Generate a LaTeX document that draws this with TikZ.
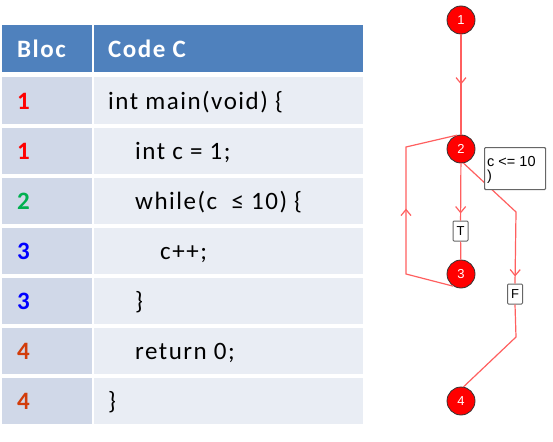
\documentclass[tikz,border=0pt]{standalone}
\usepackage{fontspec}
\setmainfont{Carlito}
\newfontfamily\tablefont[LetterSpace=6]{Carlito}
\newfontfamily\graphfont{Liberation Sans}
\usetikzlibrary{arrows.meta, positioning, decorations.markings}

\definecolor{hdrBlue}{RGB}{79,129,189}
\definecolor{blocGray}{RGB}{208,216,232}
\definecolor{codeGray}{RGB}{233,237,244}
\definecolor{oneRed}{RGB}{255,0,0}
\definecolor{twoGreen}{RGB}{0,176,80}
\definecolor{threeBlue}{RGB}{0,0,255}
\definecolor{fourOrange}{RGB}{210,60,10}
\definecolor{edgeRed}{RGB}{255,95,95}

\begin{document}
\begin{tikzpicture}[
        x=1pt, y=-1pt,
        hdr/.style={fill=hdrBlue, minimum height=47pt, inner sep=0pt},
        bloccell/.style={fill=blocGray, minimum width=90pt, minimum height=46pt, inner sep=0pt},
        codecell/.style={fill=codeGray, minimum width=269pt, minimum height=46pt, inner sep=0pt},
        hdrtext/.style={anchor=base west, inner sep=0pt, text=white, font=\tablefont\fontsize{25}{29}\selectfont\bfseries},
        num/.style={anchor=base west, inner sep=0pt, font=\tablefont\fontsize{25}{29}\selectfont\bfseries},
        code/.style={anchor=base west, inner sep=0pt, font=\tablefont\fontsize{25}{29}\selectfont},
        vtx/.style={circle, fill=red, draw=black!80, line width=0.8pt, minimum size=28pt, inner sep=0pt,
            text=white, font=\graphfont\fontsize{13}{15}\selectfont},
        tf/.style={draw=black!60, fill=white, line width=1pt, rounded corners=1pt, minimum width=15pt,
            minimum height=20pt, inner sep=0pt, font=\graphfont\fontsize{13}{15}\selectfont},
        condbox/.style={draw=black!60, fill=white, line width=1.1pt, rounded corners=1pt, minimum width=61pt,
            minimum height=42pt, inner sep=0pt},
        condtext/.style={anchor=north west, inner sep=0pt, align=left, font=\graphfont\fontsize{14.5}{14}\selectfont},
        edge/.style={draw=edgeRed, line width=1.2pt},
        midarrow/.style={postaction={decorate, decoration={markings,
            mark=at position #1 with {\arrow[edgeRed, line width=1.2pt]{Straight Barb[length=6pt, width=10pt]}}}}}
    ]

    \useasboundingbox (0,0) rectangle (553,441);

    % table
    \node[hdr, minimum width=90pt] (hbloc) at (47,48.5) {};
    \node[hdr, minimum width=269pt] (hcode) at (228.5,48.5) {};
    \node[hdrtext] (tbloc) at (17,58) {Bloc};
    \node[hdrtext] (tcode) at (108,58) {Code C};

    \node[bloccell] (b1) at (47,100.5) {};
    \node[bloccell] (b2) at (47,150.5) {};
    \node[bloccell] (b3) at (47,200.5) {};
    \node[bloccell] (b4) at (47,250.5) {};
    \node[bloccell] (b5) at (47,300.5) {};
    \node[bloccell] (b6) at (47,350.5) {};
    \node[bloccell] (b7) at (47,400.5) {};
    \node[codecell] (c1) at (228.5,100.5) {};
    \node[codecell] (c2) at (228.5,150.5) {};
    \node[codecell] (c3) at (228.5,200.5) {};
    \node[codecell] (c4) at (228.5,250.5) {};
    \node[codecell] (c5) at (228.5,300.5) {};
    \node[codecell] (c6) at (228.5,350.5) {};
    \node[codecell] (c7) at (228.5,400.5) {};

    \node[num, text=oneRed] (k1) at (17,109) {1};
    \node[num, text=oneRed] (k2) at (17,159) {1};
    \node[num, text=twoGreen] (k3) at (17,209) {2};
    \node[num, text=threeBlue] (k4) at (17,259) {3};
    \node[num, text=threeBlue] (k5) at (17,309) {3};
    \node[num, text=fourOrange] (k6) at (17,359) {4};
    \node[num, text=fourOrange] (k7) at (17,409) {4};

    \node[code] (l1) at (108,109) {int main(void) \{};
    \node[code] (l2) at (135,159) {int c = 1;};
    \node[code] (l3) at (135,209) {while(c\ \ ≤ 10) \{};
    \node[code] (l4) at (160,259) {c++;};
    \node[code] (l5) at (135,309) {\}};
    \node[code] (l6) at (135,359) {return 0;};
    \node[code] (l7) at (108,409) {\}};

    % graph
    \node[vtx] (n1) at (461,20) {1};
    \node[vtx] (n2) at (461,149) {2};
    \node[vtx] (n3) at (461,274) {3};
    \node[vtx] (n4) at (461,401) {4};
    \node[tf] (tbox) at (460.5,231) {T};
    \node[tf] (fbox) at (515,294) {F};

    \coordinate (bk1) at (406,274);
    \coordinate (bk2) at (406,147);
    \coordinate (fk1) at (516,212);
    \coordinate (fk2) at (516,337);

    \draw[edge, midarrow=0.5] (n1) -- (n2);
    \draw[edge, midarrow=-7pt] (n2) -- (tbox);
    \draw[edge] (tbox) -- (n3);
    \draw[edge, midarrow=0.5] (n3.-122) -- (bk1) -- (bk2) -- (n2.105);
    \draw[edge, midarrow=-7pt] (n2.-80) -- (fk1) -- (fbox.north);
    \draw[edge] (fbox.south) -- (fk2) -- (n4.80);

    \node[condbox, anchor=north west] (cnd) at (484,147) {};
    \node[condtext] (cndt) at (487,156.5) {c <= 10\\)};

\end{tikzpicture}
\end{document}
